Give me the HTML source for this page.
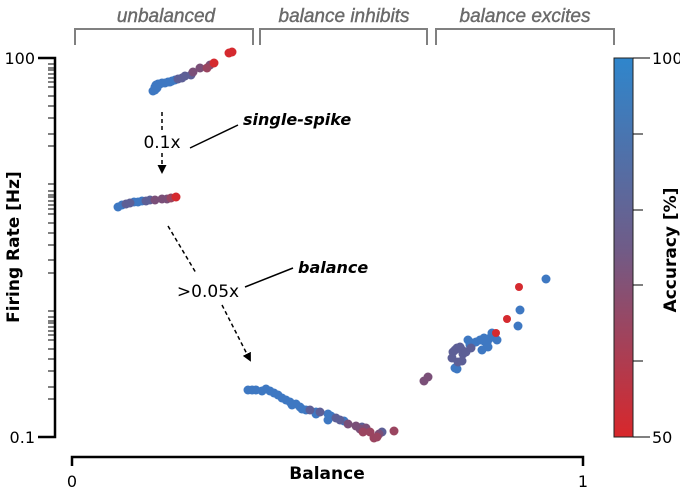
<!DOCTYPE html>
<html><head><meta charset="utf-8"><style>
html,body{margin:0;padding:0;background:#fff;}
svg{display:block;font-family:"DejaVu Sans","Liberation Sans",sans-serif;}
</style></head><body>
<svg width="680" height="500" viewBox="0 0 680 500" xmlns="http://www.w3.org/2000/svg">
<defs>
<linearGradient id="cb" x1="0" y1="0" x2="0" y2="1">
<stop offset="0" stop-color="#2f86cc"/><stop offset="0.5" stop-color="#6f5c88"/><stop offset="1" stop-color="#d8272b"/>
</linearGradient>
<marker id="ah" markerWidth="9" markerHeight="9" refX="7" refY="4.5" orient="auto" markerUnits="userSpaceOnUse">
<path d="M0,0 L9,4.5 L0,9 z" fill="#000"/></marker>
</defs>
<g stroke="#808080" stroke-width="2" fill="none">
<path d="M75,45 V29 H253 V45"/><path d="M260,45 V29 H427 V45"/><path d="M436,45 V29 H614 V45"/>
</g>
<g fill="#6a6a6a" stroke="#6a6a6a" stroke-width="0.4" font-family="Liberation Sans, sans-serif" font-style="italic" font-size="19" text-anchor="middle">
<text x="166" y="22">unbalanced</text><text x="344" y="22">balance inhibits</text><text x="525" y="22">balance excites</text>
</g>
<g stroke="#000" stroke-width="2.5" fill="none">
<path d="M38,58 H55 V437 H38"/>
<path d="M72,466 V457 H583 V466"/>
</g>
<g stroke="#000" stroke-width="1">
<path d="M48,96 H55 M48,87 H55 M48,78 H55 M48,70 H55 M48,64 H55 M48,68 H55 M48,74 H55 M48,82 H55 M48,106 H55 M48,118 H55 M48,134 H55 M48,146 H55 M48,184 H55"/>
<path d="M48,223 H55 M48,214 H55 M48,205 H55 M48,197 H55 M48,191 H55 M48,195 H55 M48,201 H55 M48,209 H55 M48,233 H55 M48,245 H55 M48,260 H55 M48,273 H55 M48,311 H55"/>
<path d="M48,349 H55 M48,340 H55 M48,331 H55 M48,323 H55 M48,317 H55 M48,321 H55 M48,327 H55 M48,335 H55 M48,359 H55 M48,371 H55 M48,387 H55 M48,399 H55"/>
</g>
<g font-size="16" fill="#000">
<text x="35" y="64" text-anchor="end">100</text>
<text x="35" y="443" text-anchor="end">0.1</text>
<text x="72" y="487" text-anchor="middle">0</text>
<text x="583" y="487" text-anchor="middle">1</text>
<text x="327" y="479" text-anchor="middle" font-weight="bold" font-size="17">Balance</text>
<text transform="translate(19,247) rotate(-90)" text-anchor="middle" font-weight="bold" font-size="17">Firing Rate [Hz]</text>
</g>
<rect x="614" y="58" width="19" height="379" fill="url(#cb)" stroke="#222" stroke-width="1"/>
<g stroke="#000" stroke-width="1"><path d="M633,58 H650 M633,134 H643 M633,210 H643 M633,285 H643 M633,361 H643 M633,437 H650"/></g>
<g font-size="16"><text x="652" y="64">100</text><text x="652" y="443">50</text>
<text transform="translate(676,250) rotate(-90)" text-anchor="middle" font-weight="bold" font-size="17">Accuracy [%]</text></g>
<g stroke="#000" stroke-width="1.5" fill="none">
<path d="M162,112 V130" stroke-dasharray="4,3"/>
<path d="M162,153 V172" stroke-dasharray="4,3" marker-end="url(#ah)"/>
<path d="M190,148 L238,125"/>
<path d="M168,226 L196,273" stroke-dasharray="4,3"/>
<path d="M222,305 L250,360" stroke-dasharray="4,3" marker-end="url(#ah)"/>
<path d="M245,287 L293,268"/>
</g>
<g font-size="17"><text x="162" y="148" text-anchor="middle">0.1x</text><text x="208" y="297" text-anchor="middle">&gt;0.05x</text>
<text x="243" y="125" font-weight="bold" font-style="italic" font-size="16">single-spike</text>
<text x="298" y="273" font-weight="bold" font-style="italic" font-size="16">balance</text></g>
<g fill="#3e78c2">
<circle cx="153" cy="91" r="4.5"/><circle cx="155" cy="87" r="4.5"/><circle cx="156" cy="85" r="4.5"/><circle cx="158" cy="84" r="4.5"/><circle cx="160" cy="84" r="4.5"/><circle cx="162" cy="83" r="4.5"/><circle cx="165" cy="83" r="4.5"/><circle cx="168" cy="82" r="4.5"/><circle cx="170" cy="82" r="4.5"/><circle cx="172" cy="81" r="4.5"/><circle cx="175" cy="80" r="4.5"/><circle cx="155" cy="90" r="4.5"/><circle cx="157" cy="88" r="4.5"/>
<circle cx="118" cy="207" r="4.5"/><circle cx="122" cy="205" r="4.5"/><circle cx="134" cy="202" r="4.5"/><circle cx="138" cy="202" r="4.5"/><circle cx="142" cy="201" r="4.5"/>
<circle cx="248" cy="390" r="4.5"/><circle cx="252" cy="390" r="4.5"/><circle cx="256" cy="390" r="4.5"/><circle cx="262" cy="391" r="4.5"/><circle cx="266" cy="389" r="4.5"/><circle cx="270" cy="391" r="4.5"/><circle cx="274" cy="393" r="4.5"/><circle cx="278" cy="395" r="4.5"/><circle cx="282" cy="398" r="4.5"/><circle cx="286" cy="400" r="4.5"/><circle cx="290" cy="402" r="4.5"/><circle cx="292" cy="405" r="4.5"/><circle cx="296" cy="404" r="4.5"/><circle cx="300" cy="407" r="4.5"/><circle cx="302" cy="409" r="4.5"/><circle cx="306" cy="410" r="4.5"/><circle cx="316" cy="412" r="4.5"/><circle cx="316" cy="414" r="4.5"/><circle cx="328" cy="414" r="4.5"/><circle cx="331" cy="416" r="4.5"/><circle cx="328" cy="420" r="4.5"/><circle cx="344" cy="421" r="4.5"/>
<circle cx="455" cy="368" r="4.5"/><circle cx="457" cy="369" r="4.5"/><circle cx="470" cy="345" r="4.5"/><circle cx="473" cy="343" r="4.5"/><circle cx="476" cy="342" r="4.5"/><circle cx="480" cy="340" r="4.5"/><circle cx="484" cy="341" r="4.5"/><circle cx="486" cy="340" r="4.5"/><circle cx="489" cy="339" r="4.5"/><circle cx="491" cy="337" r="4.5"/><circle cx="484" cy="338" r="4.5"/><circle cx="487" cy="344" r="4.5"/><circle cx="482" cy="350" r="4.5"/><circle cx="488" cy="347" r="4.5"/><circle cx="497" cy="340" r="4.5"/><circle cx="468" cy="340" r="4.5"/><circle cx="492" cy="333" r="4.5"/>
<circle cx="518" cy="326" r="4.5"/><circle cx="520" cy="310" r="4.5"/><circle cx="546" cy="279" r="4.5"/>
</g>
<g fill="#5d5f96">
<circle cx="178" cy="79" r="4.5"/><circle cx="182" cy="78" r="4.5"/><circle cx="185" cy="76" r="4.5"/><circle cx="191" cy="75" r="4.5"/>
<circle cx="126" cy="204" r="4.5"/><circle cx="130" cy="203" r="4.5"/><circle cx="146" cy="201" r="4.5"/><circle cx="150" cy="200" r="4.5"/>
<circle cx="310" cy="410" r="4.5"/><circle cx="320" cy="412" r="4.5"/><circle cx="336" cy="418" r="4.5"/><circle cx="340" cy="420" r="4.5"/><circle cx="382" cy="432" r="4.5"/><circle cx="362" cy="427" r="4.5"/>
<circle cx="452" cy="358" r="4.5"/><circle cx="453" cy="352" r="4.5"/><circle cx="455" cy="350" r="4.5"/><circle cx="457" cy="348" r="4.5"/><circle cx="460" cy="347" r="4.5"/><circle cx="462" cy="350" r="4.5"/><circle cx="463" cy="354" r="4.5"/><circle cx="466" cy="352" r="4.5"/><circle cx="471" cy="348" r="4.5"/><circle cx="458" cy="362" r="4.5"/><circle cx="462" cy="361" r="4.5"/>
</g>
<g fill="#7a4f78">
<circle cx="193" cy="72" r="4.5"/><circle cx="200" cy="68" r="4.5"/><circle cx="210" cy="65" r="4.5"/>
<circle cx="155" cy="200" r="4.5"/><circle cx="162" cy="199" r="4.5"/><circle cx="167" cy="199" r="4.5"/>
<circle cx="348" cy="424" r="4.5"/><circle cx="356" cy="426" r="4.5"/><circle cx="360" cy="429" r="4.5"/><circle cx="366" cy="428" r="4.5"/><circle cx="379" cy="434" r="4.5"/>
<circle cx="424" cy="381" r="4.5"/><circle cx="428" cy="377" r="4.5"/>
</g>
<g fill="#9a4560">
<circle cx="207" cy="68" r="4.5"/><circle cx="171" cy="198" r="4.5"/><circle cx="363" cy="432" r="4.5"/><circle cx="370" cy="432" r="4.5"/><circle cx="374" cy="438" r="4.5"/><circle cx="377" cy="437" r="4.5"/><circle cx="394" cy="431" r="4.5"/>
</g>
<g fill="#d52a2f">
<circle cx="214" cy="63" r="4.5"/><circle cx="229" cy="53" r="4.5"/><circle cx="232" cy="52" r="4.5"/><circle cx="176" cy="197" r="4.5"/>
<circle cx="496" cy="333" r="4"/><circle cx="507" cy="319" r="4"/><circle cx="519" cy="287" r="4"/>
</g>
</svg>
</body></html>
